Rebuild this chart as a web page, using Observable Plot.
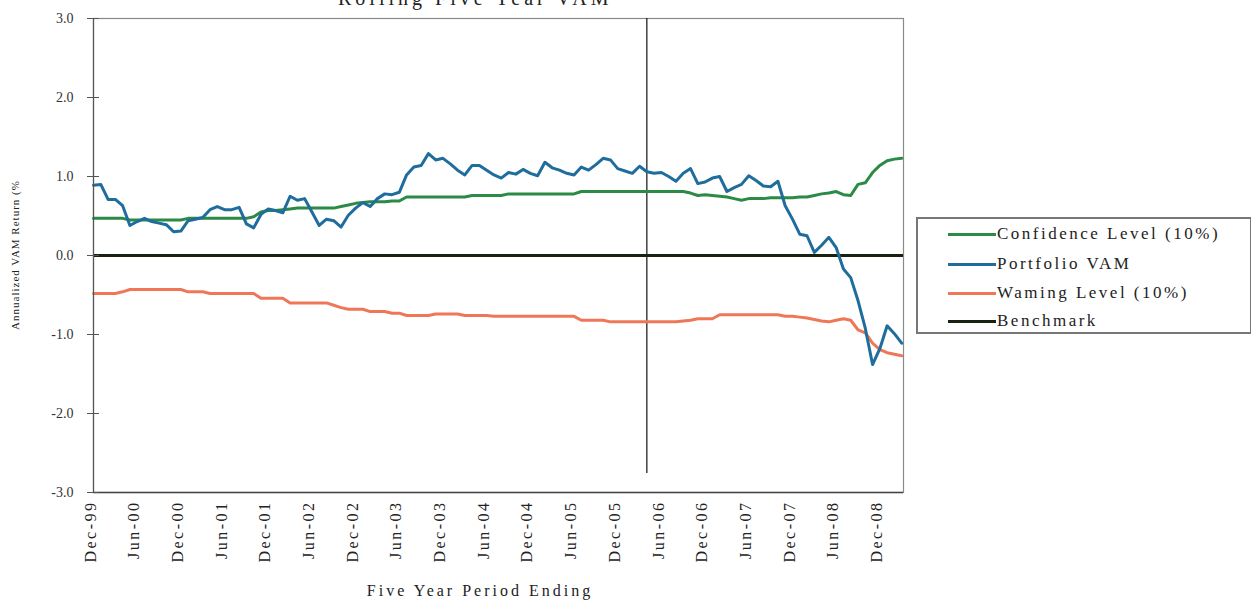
<!DOCTYPE html>
<html>
<head>
<meta charset="utf-8">
<script src="https://cdn.jsdelivr.net/npm/d3@7"></script>
<script src="https://cdn.jsdelivr.net/npm/@observablehq/plot@0.6"></script>
<style>
  html, body { margin: 0; padding: 0; background: #fff; }
  #wrap { position: relative; width: 1251px; height: 602px; overflow: hidden; font-family: "Liberation Serif", "Times New Roman", serif; color: #222; }
  #chart svg { display: block; }
  #chart svg g[aria-label="x-axis tick label"] text { letter-spacing: 2.5px; }
  #title { position: absolute; top: -12px; left: 338px; font-size: 20px; line-height: 20px; letter-spacing: 4px; white-space: nowrap; }
  #ytitle { position: absolute; left: 15px; top: 255px; transform: translate(-50%, -50%) rotate(-90deg); font-size: 11px; letter-spacing: 1px; white-space: nowrap; }
  #xtitle { position: absolute; left: 480px; top: 582px; transform: translateX(-50%); font-size: 16px; letter-spacing: 3px; white-space: nowrap; line-height: 18px; }
  #legend { position: absolute; left: 916px; top: 217px; width: 336px; height: 117px; border: 2px solid #777; box-sizing: border-box; }
  .item { position: absolute; left: 30px; height: 20px; display: flex; align-items: center; font-size: 17px; letter-spacing: 2.5px; white-space: nowrap; }
  .swatch { width: 48px; height: 3px; margin-right: 1px; }
</style>
</head>
<body>
<div id="wrap">
  <div id="chart"></div>
  <div id="title">Rolling Five Year VAM</div>
  <div id="ytitle">Annualized VAM Return (%</div>
  <div id="xtitle">Five Year Period Ending</div>
  <div id="legend"></div>
</div>
<script>
// X tick labels (every 6 months, starting Dec-99 at index 0)
const tickLabels = ["Dec-99","Jun-00","Dec-00","Jun-01","Dec-01","Jun-02","Dec-02","Jun-03","Dec-03","Jun-04","Dec-04","Jun-05","Dec-05","Jun-06","Dec-06","Jun-07","Dec-07","Jun-08","Dec-08"];
const yTicks = [-3, -2, -1, 0, 1, 2, 3];

// Monthly series, Dec-99 .. Mar-09
const confidence = [
  0.47,0.47,0.47,0.47,0.47,0.45,0.45,0.45,0.45,0.45,
  0.45,0.45,0.45,0.47,0.47,0.47,0.47,0.47,0.47,0.47,
  0.47,0.47,0.49,0.55,0.57,0.57,0.58,0.59,0.60,0.60,
  0.60,0.60,0.60,0.60,0.62,0.64,0.66,0.67,0.68,0.68,
  0.68,0.69,0.69,0.74,0.74,0.74,0.74,0.74,0.74,0.74,
  0.74,0.74,0.76,0.76,0.76,0.76,0.76,0.78,0.78,0.78,
  0.78,0.78,0.78,0.78,0.78,0.78,0.78,0.81,0.81,0.81,
  0.81,0.81,0.81,0.81,0.81,0.81,0.81,0.81,0.81,0.81,
  0.81,0.81,0.79,0.76,0.77,0.76,0.75,0.74,0.72,0.70,
  0.72,0.72,0.72,0.73,0.73,0.73,0.73,0.74,0.74,0.76,
  0.78,0.79,0.81,0.77,0.76,0.90,0.92,1.05,1.14,1.20,
  1.22,1.23
];
const portfolio = [
  0.89,0.90,0.71,0.71,0.63,0.38,0.43,0.47,0.43,0.41,
  0.39,0.30,0.31,0.44,0.46,0.48,0.58,0.62,0.58,0.58,
  0.61,0.40,0.35,0.52,0.59,0.57,0.54,0.75,0.70,0.72,
  0.55,0.38,0.46,0.44,0.36,0.51,0.60,0.67,0.62,0.72,
  0.78,0.77,0.80,1.02,1.12,1.14,1.29,1.21,1.23,1.16,
  1.08,1.02,1.14,1.14,1.08,1.02,0.98,1.05,1.03,1.09,
  1.04,1.01,1.18,1.11,1.08,1.04,1.02,1.12,1.08,1.15,
  1.23,1.21,1.10,1.07,1.04,1.13,1.06,1.04,1.05,1.00,
  0.94,1.04,1.10,0.91,0.93,0.98,1.00,0.81,0.86,0.90,
  1.01,0.95,0.88,0.87,0.94,0.63,0.46,0.27,0.25,0.04,
  0.13,0.23,0.10,-0.17,-0.28,-0.57,-0.92,-1.38,-1.18,-0.89,
  -0.99,-1.11
];
const warning = [
  -0.48,-0.48,-0.48,-0.48,-0.46,-0.43,-0.43,-0.43,-0.43,-0.43,
  -0.43,-0.43,-0.43,-0.46,-0.46,-0.46,-0.48,-0.48,-0.48,-0.48,
  -0.48,-0.48,-0.48,-0.54,-0.54,-0.54,-0.54,-0.60,-0.60,-0.60,
  -0.60,-0.60,-0.60,-0.63,-0.66,-0.68,-0.68,-0.68,-0.71,-0.71,
  -0.71,-0.73,-0.73,-0.76,-0.76,-0.76,-0.76,-0.74,-0.74,-0.74,
  -0.74,-0.76,-0.76,-0.76,-0.76,-0.77,-0.77,-0.77,-0.77,-0.77,
  -0.77,-0.77,-0.77,-0.77,-0.77,-0.77,-0.77,-0.82,-0.82,-0.82,
  -0.82,-0.84,-0.84,-0.84,-0.84,-0.84,-0.84,-0.84,-0.84,-0.84,
  -0.84,-0.83,-0.82,-0.80,-0.80,-0.80,-0.75,-0.75,-0.75,-0.75,
  -0.75,-0.75,-0.75,-0.75,-0.75,-0.77,-0.77,-0.78,-0.79,-0.81,
  -0.83,-0.84,-0.82,-0.80,-0.82,-0.94,-0.98,-1.11,-1.19,-1.23,
  -1.25,-1.27
];
const benchmarkLevel = 0;
const markerMonth = 76;      // Apr-06 vertical marker
const markerBottom = -2.76;

const seriesNames = ["Confidence Level (10%)", "Portfolio VAM", "Waming Level (10%)", "Benchmark"];
const seriesColors = ["#2b8a45", "#1f6d9c", "#ef7758", "#17230f"];

const rows = [];
confidence.forEach((v, i) => rows.push({i, v, s: seriesNames[0]}));
warning.forEach((v, i) => rows.push({i, v, s: seriesNames[2]}));
portfolio.forEach((v, i) => rows.push({i, v, s: seriesNames[1]}));

const tickPos = tickLabels.map((_, k) => k * 6);

const chart = Plot.plot({
  width: 1251,
  height: 602,
  marginLeft: 93,
  marginRight: 348,
  marginTop: 18,
  marginBottom: 110,
  style: { fontFamily: "'Liberation Serif', 'Times New Roman', serif", background: "transparent", color: "#222" },
  x: { domain: [0, 111.25], axis: null, label: null },
  y: { domain: [-3, 3], axis: null, label: null },
  color: { domain: seriesNames, range: seriesColors },
  marks: [
    Plot.frame({ stroke: "#8a8a8a", strokeWidth: 1.2 }),
    Plot.ruleX([markerMonth], { y1: 3, y2: markerBottom, stroke: "#111", strokeWidth: 1.2 }),
    Plot.ruleY([benchmarkLevel], { stroke: seriesColors[3], strokeWidth: 3 }),
    Plot.line(rows, { x: "i", y: "v", z: "s", stroke: "s", strokeWidth: 3, strokeLinejoin: "round" }),
    Plot.ruleX([0], { stroke: "#555", strokeWidth: 1.2 }),
    Plot.ruleY([-3], { stroke: "#444", strokeWidth: 1.5 }),
    Plot.axisY(yTicks, { tickSize: 12, dx: 6, tickFormat: () => "", stroke: "#555", label: null }),
    Plot.axisY(yTicks, { tickSize: 0, tickPadding: 20, tickFormat: d => d.toFixed(1), fontSize: 14, fill: "#333", label: null }),
    Plot.axisX(tickPos, { tickSize: 0, tickPadding: 8, tickRotate: -90, tickFormat: d => tickLabels[d / 6], fontSize: 16, dx: -3, fill: "#222", label: null })
  ]
});
document.getElementById("chart").appendChild(chart);

// Legend
const legend = document.getElementById("legend");
const legendTops = [5, 35, 64, 92];
seriesNames.forEach((name, k) => {
  const item = document.createElement("div");
  item.className = "item";
  item.style.top = legendTops[k] + "px";
  const sw = document.createElement("div");
  sw.className = "swatch";
  sw.style.background = seriesColors[k];
  const tx = document.createElement("span");
  tx.textContent = name;
  item.appendChild(sw);
  item.appendChild(tx);
  legend.appendChild(item);
});
</script>
</body>
</html>
